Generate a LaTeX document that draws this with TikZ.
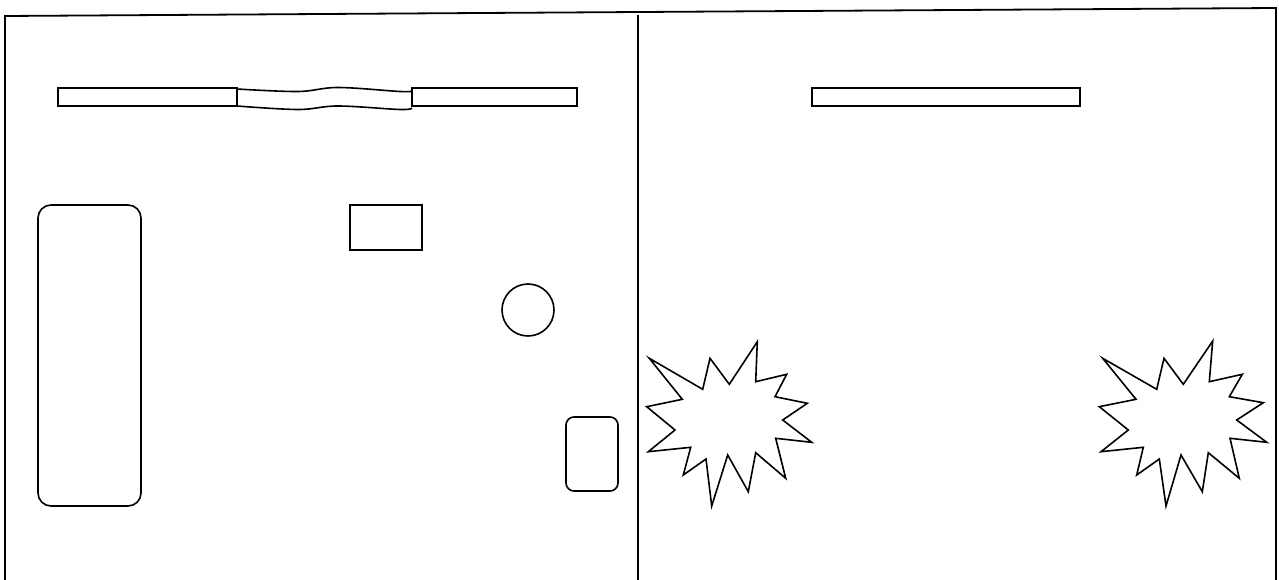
\documentclass[tikz,border=0pt]{standalone}
\begin{document}
\begin{tikzpicture}[x=1pt,y=-1pt,line join=miter,
  ln/.style={draw=black,line width=1.8pt},
  shp/.style={draw=black,line width=1.6pt}]
\useasboundingbox (0,0) rectangle (1279,580);
\fill[white] (0,0) rectangle (1279,580);
% frame
\draw[ln] (5,580) -- (5,16) -- (1276,8) -- (1276,580);
\draw[ln] (638,15) -- (638,580);
% left panel bars
\draw[shp] (58,88) rectangle (237,106);
\draw[shp] (412,88) rectangle (577,106);
\draw[shp] plot[smooth,tension=0.6] coordinates {(237,89) (298,91.5) (338,87.5) (400,91.5) (412,91)};
\draw[shp] plot[smooth,tension=0.6] coordinates {(237,106) (298,109.5) (338,106) (400,109.5) (412,108)};
% left panel shapes
\draw[shp,rounded corners=13pt] (38,205) rectangle (141,506);
\draw[shp] (350,205) rectangle (422,250);
\draw[shp] (528,310) circle (26);
\draw[shp,rounded corners=8pt] (566,417) rectangle (618,491);
% right panel bar
\draw[shp] (812,88) rectangle (1080,106);
% starbursts
\draw[shp] (649.3,358.3) -- (702.7,389.3) -- (710,358.3) -- (729.3,384.3) -- (757.3,341.7) -- (755.7,381.7) -- (786.7,374.3) -- (775,396.7) -- (807.3,403.3) -- (782.7,420) -- (811.7,442.3) -- (775.7,438.3) -- (785.7,478.3) -- (755.7,452.7) -- (748.3,491.7) -- (727.7,455) -- (711.7,506) -- (706,459) -- (683.3,475) -- (690.7,447.3) -- (648.3,451.7) -- (675,430) -- (646.7,406.7) -- (682.3,399.3) -- cycle;
\draw[shp] (1102.7,358.3) -- (1156.7,389.3) -- (1164,358.3) -- (1183.3,384.3) -- (1212.7,341) -- (1209.3,381.7) -- (1242.3,374.3) -- (1229.3,396.7) -- (1263.3,402.7) -- (1236.7,420) -- (1266.7,442.3) -- (1230,438.3) -- (1239.3,478.3) -- (1208.3,452.7) -- (1202.3,491.7) -- (1181,455) -- (1166,506) -- (1159.3,459) -- (1136.7,475) -- (1143.3,447.3) -- (1101,451.7) -- (1128.3,430) -- (1099.3,406.7) -- (1136,399.3) -- cycle;
\end{tikzpicture}
\end{document}
